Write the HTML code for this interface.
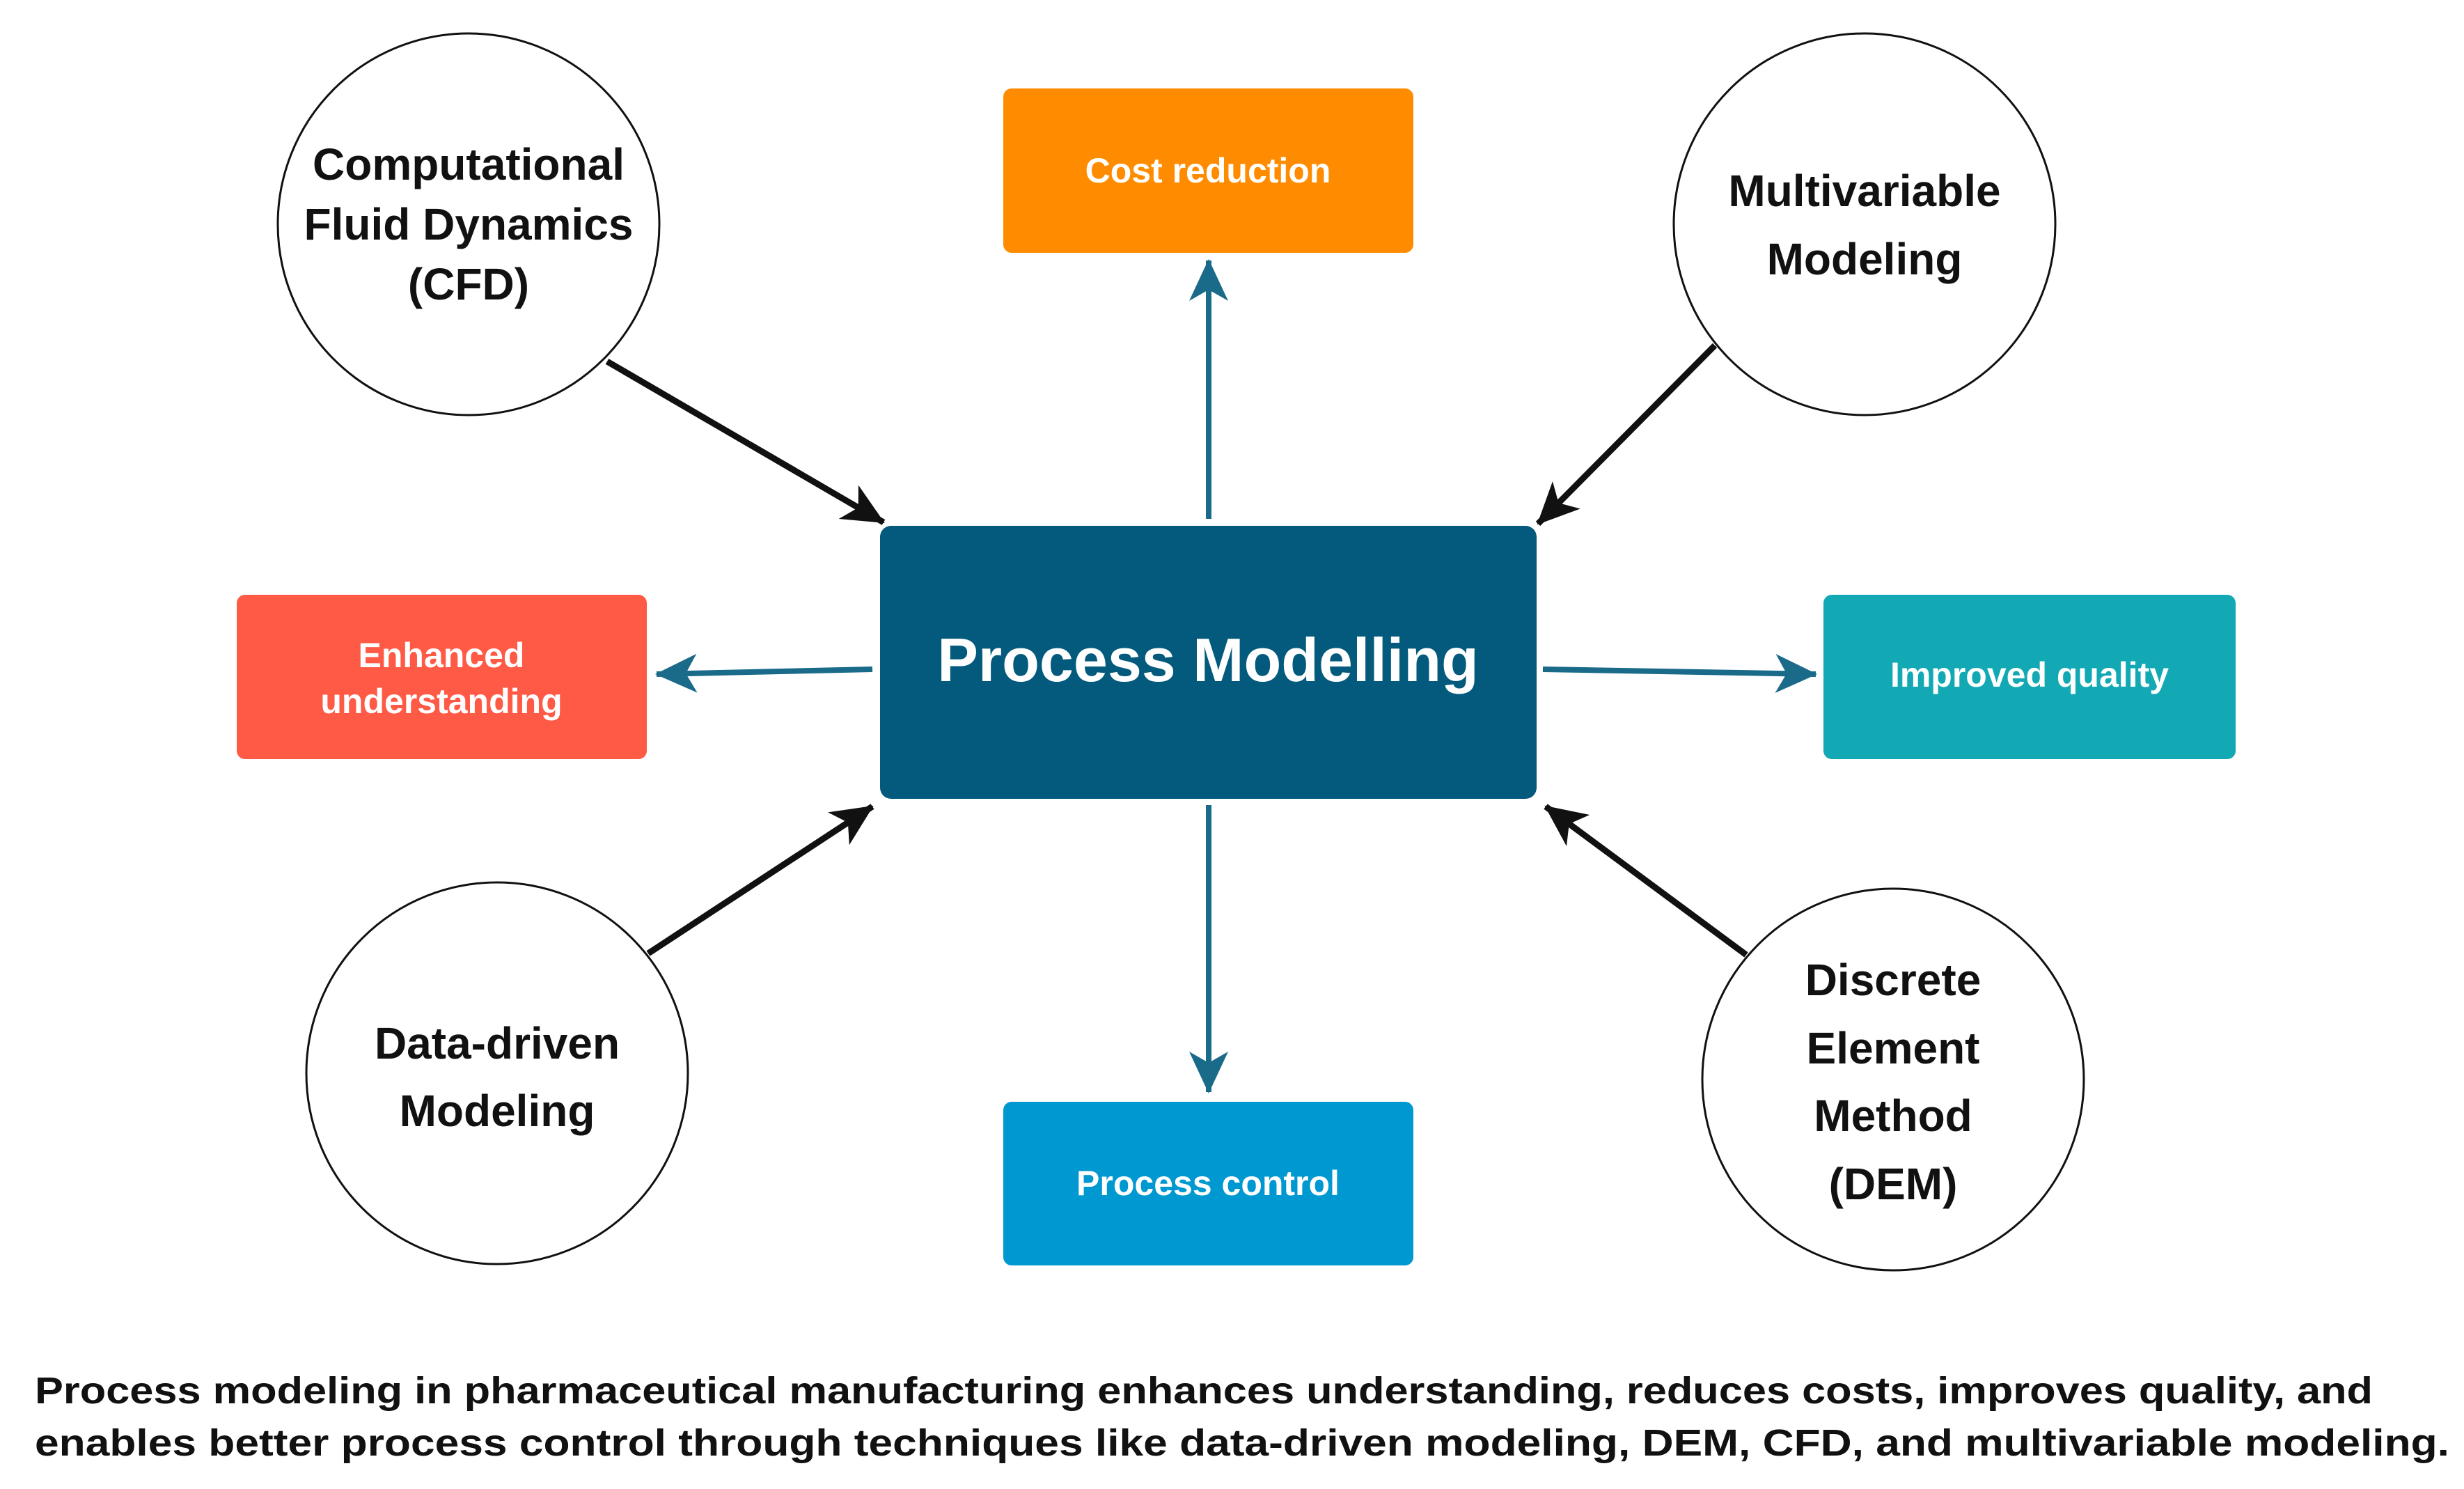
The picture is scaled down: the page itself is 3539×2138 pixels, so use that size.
<!DOCTYPE html>
<html><head><meta charset="utf-8"><style>html,body{margin:0;padding:0;background:#fff}svg{display:block}</style></head>
<body>
<svg width="3539" height="2138" viewBox="0 0 3539 2138" xmlns="http://www.w3.org/2000/svg">
<defs>
<marker id="mk" markerWidth="70" markerHeight="60" refX="60" refY="30" orient="auto" markerUnits="userSpaceOnUse" viewBox="0 0 70 60">
<polygon points="62,30 2,2 18,30 2,58" fill="#111"/>
</marker>
<marker id="mb" markerWidth="70" markerHeight="60" refX="60" refY="30" orient="auto" markerUnits="userSpaceOnUse" viewBox="0 0 70 60">
<polygon points="62,30 2,2 18,30 2,58" fill="#1A6A8A"/>
</marker>
</defs>
<rect width="3539" height="2138" fill="#fff"/>
<rect x="1441" y="127" width="589" height="236" rx="12" fill="#FF8C00"/>
<rect x="1264" y="755" width="943" height="392" rx="16" fill="#045A7C"/>
<rect x="340" y="854" width="589" height="236" rx="12" fill="#FF5A45"/>
<rect x="2619" y="854" width="592" height="236" rx="12" fill="#12A9B5"/>
<rect x="1441" y="1582" width="589" height="235" rx="12" fill="#0098D0"/>
<g font-family="Liberation Sans, sans-serif" font-weight="bold" fill="#fff" text-anchor="middle">
<text x="1735" y="262" font-size="50">Cost reduction</text>
<text x="1735" y="978" font-size="88">Process Modelling</text>
<text x="634" y="958" font-size="50">Enhanced</text>
<text x="634" y="1024" font-size="50">understanding</text>
<text x="2915" y="986" font-size="50">Improved quality</text>
<text x="1735" y="1716" font-size="50">Process control</text>
</g>
<g fill="#fff" stroke="#111" stroke-width="3">
<circle cx="673" cy="322" r="274"/>
<circle cx="2678" cy="322" r="274"/>
<circle cx="714" cy="1541" r="274"/>
<circle cx="2719" cy="1550" r="274"/>
</g>
<g font-family="Liberation Sans, sans-serif" font-weight="bold" fill="#111" text-anchor="middle" font-size="64">
<text x="673" y="258">Computational</text>
<text x="673" y="344">Fluid Dynamics</text>
<text x="673" y="430">(CFD)</text>
<text x="2678" y="296">Multivariable</text>
<text x="2678" y="394">Modeling</text>
<text x="714" y="1520">Data-driven</text>
<text x="714" y="1617">Modeling</text>
<text x="2719" y="1429">Discrete</text>
<text x="2719" y="1527">Element</text>
<text x="2719" y="1624">Method</text>
<text x="2719" y="1722">(DEM)</text>
</g>
<g stroke="#111" stroke-width="9" fill="none">
<line x1="872" y1="519" x2="1269" y2="750" marker-end="url(#mk)"/>
<line x1="2463" y1="496" x2="2209" y2="752" marker-end="url(#mk)"/>
<line x1="931" y1="1369" x2="1253" y2="1158" marker-end="url(#mk)"/>
<line x1="2508" y1="1371" x2="2220" y2="1158" marker-end="url(#mk)"/>
</g>
<g stroke="#1A6A8A" stroke-width="8" fill="none">
<line x1="1736" y1="745" x2="1736" y2="374" marker-end="url(#mb)"/>
<line x1="1736" y1="1156" x2="1736" y2="1568" marker-end="url(#mb)"/>
<line x1="1253" y1="961" x2="943" y2="968" marker-end="url(#mb)"/>
<line x1="2216" y1="961" x2="2608" y2="968" marker-end="url(#mb)"/>
</g>
<g font-family="Liberation Sans, sans-serif" font-weight="bold" fill="#111" font-size="54">
<text x="50" y="2015" textLength="3358" lengthAdjust="spacingAndGlyphs">Process modeling in pharmaceutical manufacturing enhances understanding, reduces costs, improves quality, and</text>
<text x="50" y="2090" textLength="3468" lengthAdjust="spacingAndGlyphs">enables better process control through techniques like data-driven modeling, DEM, CFD, and multivariable modeling.</text>
</g>
</svg>
</body></html>
